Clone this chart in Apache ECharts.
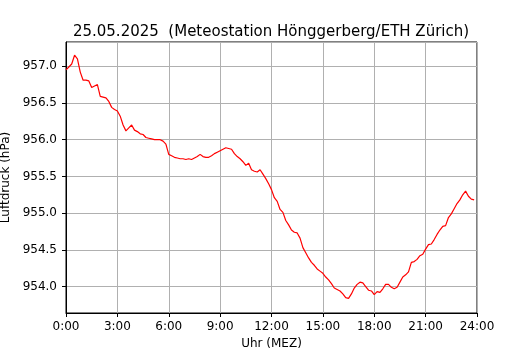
<!DOCTYPE html>
<html>
<head>
<meta charset="utf-8">
<script src="https://cdn.jsdelivr.net/npm/echarts@6/dist/echarts.min.js"></script>
<style>
  html, body { margin: 0; padding: 0; background: #fff; }
  #chart { width: 530px; height: 350px; }
</style>
</head>
<body>
<div id="chart"></div>
<script>
// Luftdruck alle 10 Minuten, 0:00 bis 23:50
const startMinute = 0;
const stepMinutes = 10;
const pressure = [
  956.95, 956.99, 957.03, 957.15, 957.10, 956.92, 956.81, 956.81, 956.80, 956.71,
  956.73, 956.75, 956.59, 956.58, 956.57, 956.52, 956.44, 956.41, 956.39, 956.32,
  956.20, 956.12, 956.16, 956.20, 956.13, 956.11, 956.08, 956.07, 956.03, 956.02,
  956.01, 956.00, 956.00, 956.00, 955.98, 955.94, 955.80, 955.78, 955.76, 955.75,
  955.74, 955.74, 955.73, 955.74, 955.73, 955.75, 955.77, 955.80, 955.77, 955.76,
  955.76, 955.78, 955.81, 955.83, 955.85, 955.87, 955.89, 955.88, 955.87, 955.81,
  955.77, 955.74, 955.70, 955.65, 955.68, 955.59, 955.57, 955.56, 955.59, 955.53,
  955.47, 955.40, 955.32, 955.21, 955.16, 955.05, 955.01, 954.90, 954.84, 954.77,
  954.74, 954.73, 954.66, 954.53, 954.46, 954.39, 954.33, 954.29, 954.24, 954.21,
  954.18, 954.13, 954.09, 954.04, 953.98, 953.96, 953.94, 953.90, 953.85, 953.84,
  953.90, 953.98, 954.03, 954.06, 954.05, 954.00, 953.95, 953.94, 953.89, 953.93,
  953.92, 953.97, 954.03, 954.03, 953.99, 953.97, 953.99, 954.06, 954.13, 954.16,
  954.20, 954.33, 954.34, 954.37, 954.42, 954.44, 954.51, 954.57, 954.58, 954.64,
  954.71, 954.77, 954.82, 954.83, 954.94, 954.99, 955.06, 955.13, 955.18, 955.25,
  955.30, 955.23, 955.19, 955.18
];
const xTicks = [0, 180, 360, 540, 720, 900, 1080, 1260, 1440];
const yRange = [953.64, 957.33];

const seriesData = pressure.map((v, i) => [startMinute + i * stepMinutes, v]);

const font = 'DejaVu Sans';
var chart = echarts.init(document.getElementById('chart'), null, { renderer: 'canvas' });
const option = {
  animation: false,
  backgroundColor: '#fff',
  title: {
    text: '25.05.2025  (Meteostation Hönggerberg/ETH Zürich)',
    left: 266,
    textAlign: 'center',
    top: 20,
    textStyle: { fontFamily: font, fontSize: 15, fontWeight: 'normal', color: '#000' }
  },
  grid: {
    left: 66, right: 53, top: 42, bottom: 37,
    outerBoundsMode: 'none',
    containLabel: false,
    show: true, borderColor: '#000', borderWidth: 1
  },
  xAxis: {
    type: 'value',
    min: xTicks[0],
    max: xTicks[xTicks.length - 1],
    interval: 180,
    name: 'Uhr (MEZ)',
    nameLocation: 'middle',
    nameGap: 17,
    nameTextStyle: { fontFamily: font, fontSize: 12, color: '#000' },
    axisLine: { lineStyle: { color: '#000', width: 1 } },
    axisTick: { length: 4, lineStyle: { color: '#000' } },
    axisLabel: {
      fontFamily: font, fontSize: 12, color: '#000', margin: 8,
      formatter: v => (v / 60) + ':00'
    },
    splitLine: { show: true, lineStyle: { color: '#b0b0b0', width: 1 } }
  },
  yAxis: {
    type: 'value',
    min: yRange[0],
    max: yRange[1],
    splitNumber: 7,
    name: 'Luftdruck (hPa)',
    nameLocation: 'middle',
    nameGap: 51,
    nameTextStyle: { fontFamily: font, fontSize: 12, color: '#000' },
    axisLine: { show: true, lineStyle: { color: '#000', width: 1 } },
    axisTick: { show: true, length: 4, lineStyle: { color: '#000' } },
    axisLabel: {
      fontFamily: font, fontSize: 12, color: '#000', margin: 9,
      showMinLabel: false, showMaxLabel: false,
      formatter: v => v.toFixed(1)
    },
    splitLine: { show: true, lineStyle: { color: '#b0b0b0', width: 1 } }
  },
  series: [
    {
      type: 'line',
      data: seriesData,
      showSymbol: false,
      lineStyle: { color: '#ff0000', width: 1.2 },
      itemStyle: { color: '#ff0000' }
    }
  ]
};
chart.setOption(option);
</script>
</body>
</html>
